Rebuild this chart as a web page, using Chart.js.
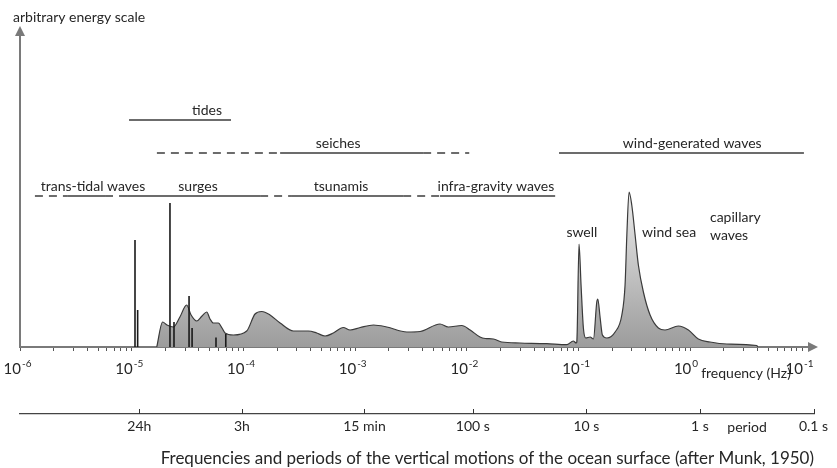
<!DOCTYPE html>
<html>
<head>
<meta charset="utf-8">
<title>Ocean surface wave spectrum</title>
<script src="https://cdn.jsdelivr.net/npm/chart.js@4.4.0/dist/chart.umd.min.js"></script>
<style>
  html, body { margin: 0; padding: 0; background: #fff; }
  #chart { display: block; }
</style>
</head>
<body>
<canvas id="chart" width="837" height="468"></canvas>
<script>
// spectrum outline: frequency (Hz) vs arbitrary energy
const specFreq = [
  1.675e-5, 1.89e-5, 2.07e-5, 2.36e-5, 2.70e-5, 3.10e-5, 3.40e-5, 3.82e-5, 4.26e-5, 4.69e-5,
  5.02e-5, 5.38e-5, 5.96e-5, 6.43e-5, 6.84e-5, 8.13e-5, 1.07e-4, 1.27e-4, 1.46e-4, 1.73e-4,
  2.13e-4, 2.80e-4, 3.81e-4, 4.53e-4, 5.38e-4, 6.38e-4, 7.83e-4, 9.00e-4, 1.11e-3, 1.46e-3,
  1.92e-3, 2.90e-3, 3.81e-3, 5.75e-3, 6.82e-3, 9.00e-3, 1.07e-2, 1.31e-2, 1.46e-2, 1.73e-2,
  2.05e-2, 2.99e-2, 5.19e-2, 7.83e-2, 8.97e-2, 9.51e-2, 0.0964, 0.1009, 0.1052, 0.1104,
  0.1159, 0.1268, 0.1358, 0.1455, 0.1486, 0.1560, 0.1633, 0.1791, 0.2123, 0.2438,
  0.2606, 0.2704, 0.2831, 0.2992, 0.3206, 0.3428, 0.3802, 0.4365, 0.5176, 0.5943,
  0.7816, 0.9616, 1.18, 1.50, 2.12, 3.94, 4.01
];
const specEnergy = [
  0, 25, 22, 20, 30, 42, 32, 26, 31, 35,
  28, 24, 24, 19, 14, 12, 16, 33, 35.5, 32,
  24, 16, 16, 14, 11, 14, 19.5, 17, 19.5, 22,
  20, 15, 15.5, 23, 20, 21.5, 17, 10, 8.5, 8,
  5, 4, 3.3, 2.3, 6, 4, 5, 103, 62, 19,
  9, 10, 8, 45, 48, 29, 12, 9, 15, 32,
  62, 112, 155, 142, 112, 82, 55, 32, 19, 17,
  21, 17, 8, 5, 3, 1.5, 0
];

// tidal lines (vertical spikes)
const lineFreq = [1.07e-5, 1.13e-5, 2.20e-5, 2.39e-5, 3.26e-5, 3.47e-5, 5.68e-5, 6.95e-5];
const lineEnergy = [107, 37, 144, 25, 51, 19, 9.5, 13];

// wave classes drawn as ranges above the spectrum
const bandNames = ['tides', 'seiches', 'wind-generated waves', 'trans-tidal waves', 'surges', 'tsunamis', 'infra-gravity waves'];
const bandLevel = [227, 194, 194, 151, 151, 151, 151];
const bandSolid = [[9.46e-6, 7.74e-5], [2.13e-4, 4.06e-3], [6.68e-2, 10.4], [2.64e-6, 5.77e-6], [9.08e-6, 1.41e-4], [2.72e-4, 2.69e-3], [5.75e-3, 6.17e-2]];
const bandDashed = [[], [[1.68e-5, 2.13e-4], [4.06e-3, 1.05e-2]], [], [[1.36e-6, 2.64e-6], [5.77e-6, 9.08e-6]], [[1.41e-4, 2.72e-4]], [[2.69e-3, 5.75e-3]], []];
const bandLabelFreq = [4.72e-5, 7.03e-4, 1.04, 4.50e-6, 3.92e-5, 7.48e-4, 1.82e-2];

// names written next to the peaks
const peakNames = ['swell', 'wind sea', 'capillary', 'waves'];
const peakFreq = [0.107, 0.646, 1.50, 1.50];
const peakEnergy = [115, 115, 130, 112];

// axes
const freqTickValues = [1e-6, 1e-5, 1e-4, 1e-3, 1e-2, 1e-1, 1, 10];
const freqTickExps = ['-6', '-5', '-4', '-3', '-2', '-1', '0', '-1'];
const periodTickValues = [1 / 86400, 1 / 10800, 1 / 900, 1 / 100, 1 / 10, 1, 10];
const periodTickLabels = ['24h', '3h', '15 min', '100 s', '10 s', '1 s', '0.1 s'];

const FONT = 'Lato, "Open Sans", sans-serif';
const INK = '#262626';

const pts = (xs, ys) => xs.map((x, i) => ({ x: x, y: ys[i] }));

const spikeData = [];
lineFreq.forEach((f, i) => {
  spikeData.push({ x: f, y: 0 }, { x: f, y: lineEnergy[i] }, { x: f, y: null });
});

const solidData = [];
const dashData = [];
bandNames.forEach((n, i) => {
  solidData.push({ x: bandSolid[i][0], y: bandLevel[i] }, { x: bandSolid[i][1], y: bandLevel[i] }, { x: bandSolid[i][1], y: null });
  bandDashed[i].forEach(r => {
    dashData.push({ x: r[0], y: bandLevel[i] }, { x: r[1], y: bandLevel[i] }, { x: r[1], y: null });
  });
});

const decor = {
  id: 'decor',
  afterDraw(chart) {
    const c = chart.ctx, a = chart.chartArea;
    const x = chart.scales.x, xp = chart.scales.xp, y = chart.scales.y;
    c.save();

    // axis arrow heads
    c.fillStyle = '#7a7a7a';
    c.beginPath();
    c.moveTo(a.left, a.top - 9); c.lineTo(a.left - 5, a.top + 1); c.lineTo(a.left + 5, a.top + 1);
    c.closePath(); c.fill();
    c.beginPath();
    c.moveTo(a.right + 4, a.bottom); c.lineTo(a.right - 6, a.bottom - 5); c.lineTo(a.right - 6, a.bottom + 5);
    c.closePath(); c.fill();

    // frequency tick labels 10^n
    c.fillStyle = INK;
    c.textBaseline = 'alphabetic';
    freqTickValues.forEach((v, i) => {
      const px = x.getPixelForValue(v);
      c.font = '15px ' + FONT;
      c.textAlign = 'right';
      c.fillText('10', px + 1, a.bottom + 27);
      c.font = '10px ' + FONT;
      c.textAlign = 'left';
      c.fillText(freqTickExps[i], px + 2, a.bottom + 20);
    });
    c.font = '14px ' + FONT;
    c.textAlign = 'left';
    c.fillText('frequency (Hz)', x.getPixelForValue(1.25), a.bottom + 31);

    // y axis title
    c.textBaseline = 'middle';
    c.fillText('arbitrary energy scale', 13, 17);

    // period ticks point up from the period line
    c.strokeStyle = '#333';
    c.lineWidth = 1;
    periodTickValues.forEach(v => {
      const px = Math.round(xp.getPixelForValue(v)) + 0.5;
      c.beginPath(); c.moveTo(px, xp.top); c.lineTo(px, xp.top - 5); c.stroke();
    });
    c.font = '14px ' + FONT;
    c.textAlign = 'center';
    c.fillText('period', xp.getPixelForValue(2.6), xp.top + 13);

    // band names
    bandNames.forEach((n, i) => {
      c.fillText(n, x.getPixelForValue(bandLabelFreq[i]), y.getPixelForValue(bandLevel[i]) - 10);
    });

    // peak names
    peakNames.forEach((n, i) => {
      c.textAlign = i < 2 ? 'center' : 'left';
      c.fillText(n, x.getPixelForValue(peakFreq[i]), y.getPixelForValue(peakEnergy[i]));
    });
    c.restore();
  }
};

new Chart(document.getElementById('chart').getContext('2d'), {
  type: 'line',
  data: {
    datasets: [
      {
        label: 'spectrum',
        data: pts(specFreq, specEnergy),
        order: 3,
        fill: 'origin',
        borderColor: '#3a3a3a',
        borderWidth: 1.2,
        pointRadius: 0,
        cubicInterpolationMode: 'monotone',
        backgroundColor: ctx => {
          const ch = ctx.chart;
          if (!ch.chartArea) return '#b0b0b0';
          const g = ch.ctx.createLinearGradient(0, ch.scales.y.getPixelForValue(160), 0, ch.chartArea.bottom);
          g.addColorStop(0, '#eeeeee');
          g.addColorStop(1, '#9c9c9c');
          return g;
        }
      },
      {
        label: 'tidal lines',
        data: spikeData,
        order: 1,
        borderColor: '#1a1a1a',
        borderWidth: 1.6,
        pointRadius: 0,
        spanGaps: false
      },
      {
        label: 'ranges',
        data: solidData,
        order: 2,
        borderColor: '#3c3c3c',
        borderWidth: 1.4,
        pointRadius: 0,
        spanGaps: false
      },
      {
        label: 'ranges (uncertain)',
        data: dashData,
        order: 2,
        borderColor: '#3c3c3c',
        borderWidth: 1.4,
        borderDash: [8, 6],
        pointRadius: 0,
        spanGaps: false
      }
    ]
  },
  options: {
    responsive: false,
    animation: false,
    layout: { padding: { left: 20, right: 23, top: 35, bottom: 1 } },
    plugins: {
      legend: { display: false },
      tooltip: { enabled: false },
      title: {
        display: true,
        position: 'bottom',
        align: 'end',
        text: 'Frequencies and periods of the vertical motions of the ocean surface (after Munk, 1950)',
        color: INK,
        font: { family: FONT, size: 17, weight: 'normal', lineHeight: 1 },
        padding: { top: 0, bottom: 0 }
      }
    },
    scales: {
      x: {
        type: 'logarithmic',
        position: 'bottom',
        min: 1e-6,
        max: 12.8,
        weight: 0,
        afterBuildTicks: s => {
          const t = [];
          for (let d = -6; d <= 0; d++) {
            for (let m = 1; m <= 9; m++) t.push({ value: m * Math.pow(10, d) });
          }
          t.push({ value: 10 });
          s.ticks = t;
        },
        afterFit: s => { s.height = 67; },
        ticks: { display: false },
        grid: { drawOnChartArea: false, tickLength: 4, color: '#555' },
        border: { color: '#7a7a7a', width: 2 }
      },
      xp: {
        type: 'logarithmic',
        position: 'bottom',
        min: 1.03e-6,
        max: 10.1,
        weight: 1,
        afterBuildTicks: s => { s.ticks = periodTickValues.map(v => ({ value: v })); },
        afterFit: s => { s.height = 36; },
        ticks: {
          autoSkip: false,
          maxRotation: 0,
          padding: 4,
          color: INK,
          font: { family: FONT, size: 14 },
          callback: (v, i) => periodTickLabels[i]
        },
        grid: { display: false, drawTicks: false },
        border: { color: '#444', width: 1.3 }
      },
      y: {
        min: 0,
        max: 312,
        afterFit: s => { s.width = 0; },
        ticks: { display: false },
        grid: { display: false },
        border: { color: '#7a7a7a', width: 2 }
      }
    }
  },
  plugins: [decor]
});
</script>
</body>
</html>
